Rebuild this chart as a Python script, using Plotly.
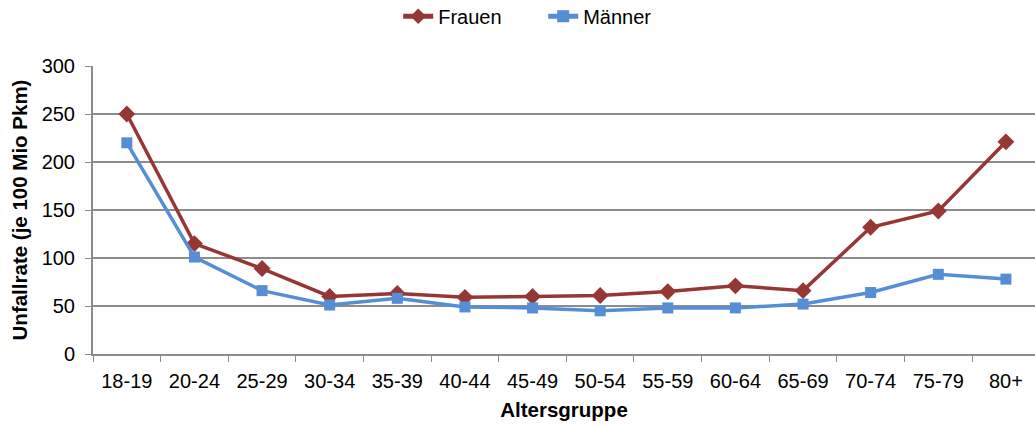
import plotly.graph_objects as go

# Altersgruppen und Unfallraten (je 100 Mio Personenkilometer)
altersgruppen = ["18-19", "20-24", "25-29", "30-34", "35-39", "40-44", "45-49",
                 "50-54", "55-59", "60-64", "65-69", "70-74", "75-79", "80+"]
frauen = [250, 115, 89, 60, 63, 59, 60, 61, 65, 71, 66, 132, 149, 221]
maenner = [220, 101, 66, 51, 58, 49, 48, 45, 48, 48, 52, 64, 83, 78]

FONT = "Liberation Sans, Arial, sans-serif"
GRID = "#8c8c8c"

fig = go.Figure()
fig.add_trace(go.Scatter(
    x=altersgruppen, y=frauen, name="Frauen", mode="lines+markers",
    line=dict(color="#953735", width=3.5),
    marker=dict(symbol="diamond", size=13, color="#953735"),
))
fig.add_trace(go.Scatter(
    x=altersgruppen, y=maenner, name="Männer", mode="lines+markers",
    line=dict(color="#558ed5", width=3.5),
    marker=dict(symbol="square", size=11, color="#558ed5"),
))

fig.update_layout(
    width=1035, height=427,
    margin=dict(l=93, r=0, t=66, b=73),
    plot_bgcolor="white", paper_bgcolor="white",
    font=dict(family=FONT, size=20, color="#000000"),
    showlegend=True,
    legend=dict(orientation="h", x=0.324, xanchor="left", xref="paper",
                y=0.962, yanchor="middle", yref="container",
                font=dict(size=20), entrywidth=100, entrywidthmode="pixels",
                traceorder="normal", itemsizing="constant"),
    xaxis=dict(
        type="category", range=[-0.5, 13.43],
        showline=True, linecolor=GRID, linewidth=2,
        ticks="outside", tickson="boundaries", ticklen=6, tickcolor=GRID, tickwidth=1,
        ticklabelstandoff=8,
        showgrid=False, automargin=False,
        title=dict(text="<b>Altersgruppe</b>", font=dict(size=20.5), standoff=12),
        tickfont=dict(size=20),
    ),
    yaxis=dict(
        range=[0, 300], dtick=50,
        showline=True, linecolor=GRID, linewidth=2,
        ticks="outside", ticklen=6, tickcolor=GRID, tickwidth=1,
        ticklabelstandoff=6,
        showgrid=True, gridcolor=GRID, gridwidth=2,
        zeroline=False, automargin=False,
        title=dict(text="<b>Unfallrate (je 100 Mio Pkm)</b>", font=dict(size=20.5), standoff=8),
        tickfont=dict(size=20),
    ),
)

fig.write_html("out.html")
